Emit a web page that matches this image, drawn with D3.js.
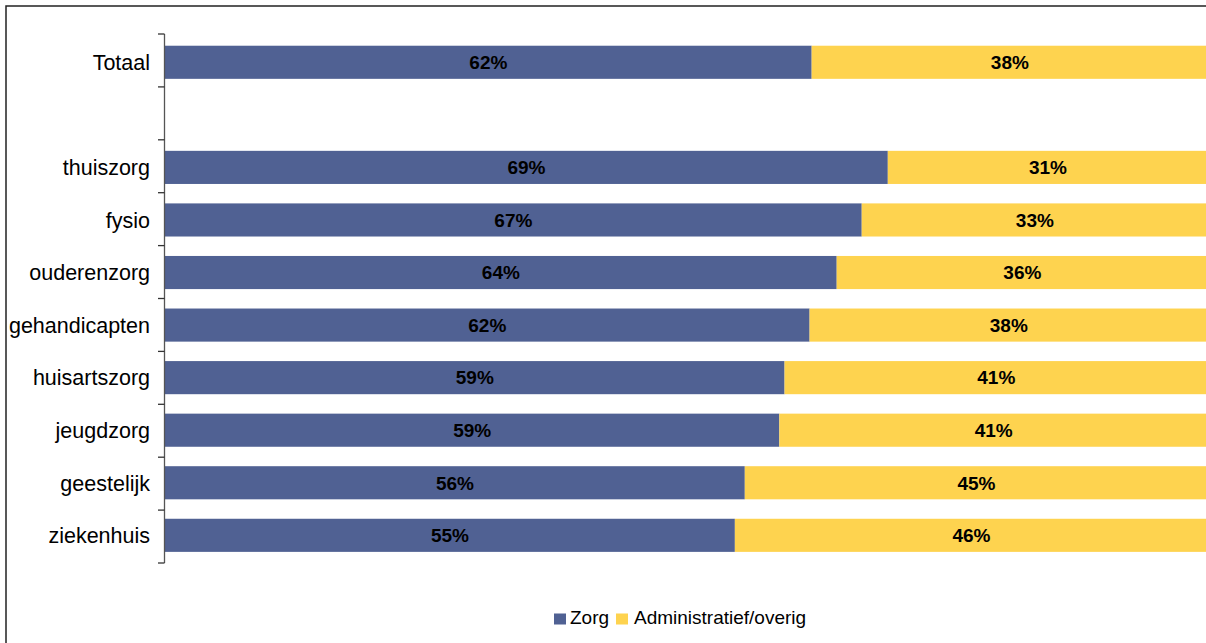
<!DOCTYPE html>
<html><head><meta charset="utf-8">
<script src="https://cdn.jsdelivr.net/npm/d3@7"></script>
<style>body{margin:0;background:#fff;}svg{display:block;}</style>
</head><body>
<script>
const categories = ["Totaal", "", "thuiszorg", "fysio", "ouderenzorg", "gehandicapten", "huisartszorg", "jeugdzorg", "geestelijk", "ziekenhuis"];
const zorg =   [62.0, null, 69.3, 66.8, 64.4, 61.8, 59.4, 58.9, 55.7, 54.8];
const admin =  [38.0, null, 30.7, 33.2, 35.6, 38.2, 40.6, 41.1, 44.5, 45.5];
const seriesNames = ["Zorg", "Administratief/overig"];
const colors = ["#506193", "#FED34F"];

const W = 1206, H = 643;
const svg = d3.select("body").append("svg").attr("width", W).attr("height", H);
const font = "'Liberation Sans', Arial, sans-serif";

// frame
svg.append("rect").attr("x", 6).attr("y", 6).attr("width", W + 20).attr("height", H + 20)
  .attr("fill", "none").attr("stroke", "#222").attr("stroke-width", 1.5);

const keys = categories.map((c, i) => i);
const y = d3.scaleBand().domain(keys).range([36, 561.6]).paddingInner(0.37).paddingOuter(0.185);
const x = d3.scaleLinear().domain([0, 1]).range([165, 1208]);

const rows = categories.map((c, i) => ({i, c, z: zorg[i], a: admin[i]})).filter(d => d.z != null);

const g = svg.append("g");
rows.forEach(d => {
  const tot = d.z + d.a;
  const segs = [{v: d.z, s: 0, e: d.z / tot, k: 0}, {v: d.a, s: d.z / tot, e: 1, k: 1}];
  segs.forEach(s => {
    g.append("rect").attr("x", x(s.s)).attr("y", y(d.i)).attr("width", x(s.e) - x(s.s))
      .attr("height", y.bandwidth()).attr("fill", colors[s.k]);
    g.append("text").attr("x", (x(s.s) + x(s.e)) / 2).attr("y", y(d.i) + y.bandwidth() / 2)
      .attr("dy", "0.36em").attr("text-anchor", "middle").attr("font-family", font)
      .attr("font-weight", "bold").attr("font-size", 19).attr("fill", "#000")
      .text(Math.round(s.v) + "%");
  });
});

// axis
const axisG = svg.append("g");
axisG.append("line").attr("x1", 164.5).attr("x2", 164.5).attr("y1", 34).attr("y2", 563)
  .attr("stroke", "#555").attr("stroke-width", 1.3);
d3.range(categories.length + 1).forEach(k => {
  const yy = 34 + k * (529 / categories.length);
  axisG.append("line").attr("x1", 158).attr("x2", 164.5).attr("y1", yy).attr("y2", yy)
    .attr("stroke", "#333").attr("stroke-width", 1.3);
});
categories.forEach((c, i) => {
  axisG.append("text").attr("x", 150).attr("y", y(i) + y.bandwidth() / 2).attr("dy", "0.36em")
    .attr("text-anchor", "end").attr("font-family", font).attr("font-size", 21.5).attr("fill", "#000")
    .text(c);
});

// legend
const leg = svg.append("g");
const legItems = [{x: 554, tx: 570}, {x: 616, tx: 634}];
seriesNames.forEach((n, k) => {
  leg.append("rect").attr("x", legItems[k].x).attr("y", 613.5).attr("width", 12).attr("height", 11)
    .attr("fill", colors[k]);
  leg.append("text").attr("x", legItems[k].tx).attr("y", 624).attr("font-family", font)
    .attr("font-size", 19).attr("fill", "#000").text(n);
});
</script>
</body></html>
